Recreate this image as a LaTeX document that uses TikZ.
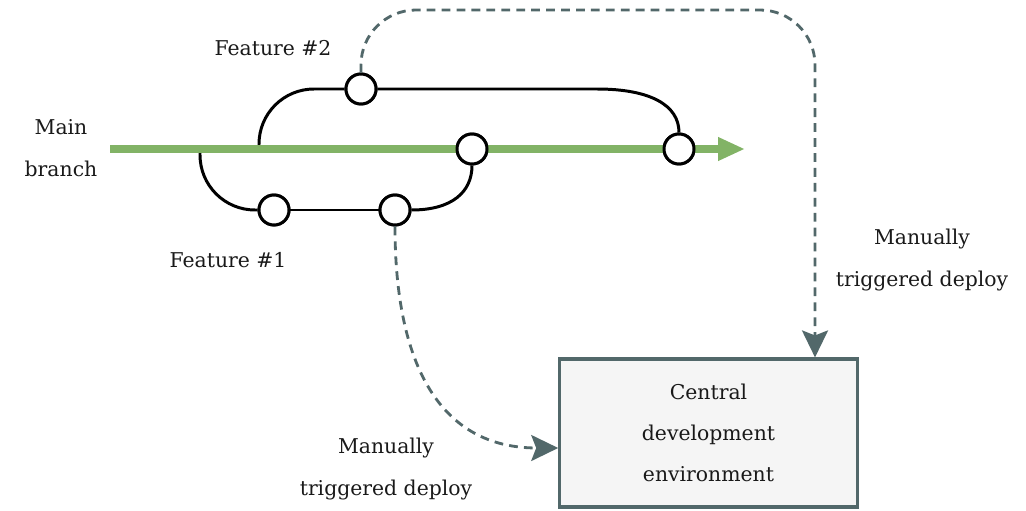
\documentclass[tikz,border=0pt]{standalone}
\usepackage{fontspec}
\setmainfont{DejaVu Serif}
\usepackage{tikz}
\usetikzlibrary{arrows.meta}
\definecolor{mainGreen}{HTML}{82B366}
\definecolor{deployGray}{HTML}{52686A}
\definecolor{boxFill}{HTML}{F5F5F5}

\begin{document}
\begin{tikzpicture}[x=0.02cm,y=-0.02cm,
    label/.style={align=center,text=black!90,font=\fontsize{11.6}{23.5}\selectfont},
    commit/.style={circle,draw=black,fill=white,line width=1.7pt,minimum size=0.6cm,inner sep=0pt},
    branch/.style={draw=black,line width=1.7pt},
    deploy/.style={draw=deployGray,line width=1.6pt,dash pattern=on 5pt off 3.5pt,
      -{Stealth[length=0.54cm,width=0.52cm,inset=0.1cm]}}]
  \useasboundingbox (0,0) rectangle (1026,510);
  \coordinate (mainstart) at (110,149);
  \coordinate (mainend) at (745,149);
  \coordinate (f1fork) at (200,149);
  \coordinate (f2fork) at (259,149);
  \node[commit] (f2a) at (361,89) {};
  \node[commit] (m1) at (472,149) {};
  \node[commit] (m2) at (679,149) {};
  \node[commit] (f1a) at (274,210) {};
  \node[commit] (f1b) at (395,210) {};
  \node[draw=deployGray,fill=boxFill,line width=1.8pt,minimum width=5.95cm,minimum height=2.96cm,
    label] (box) at (708.5,433) {Central\\development\\environment};
  \draw[branch,rounded corners=1.1cm] (f2fork) |- (f2a.west);
  \draw[branch] (f2a.east) -- (597,89) .. controls (650,89) and (679,105) .. (m2.north);
  \draw[branch,rounded corners=1.1cm] (f1fork) |- (f1a.west);
  \draw[branch] (f1a.east) -- (f1b.west);
  \draw[branch] (f1b.east) .. controls (452,210) and (472,192) .. (m1.south);
  \draw[mainGreen,line width=4.6pt,-{Triangle[length=0.54cm,width=0.44cm]}] (mainstart) -- (mainend);
  \node[commit] at (f2a) {};
  \node[commit] at (m1) {};
  \node[commit] at (m2) {};
  \node[commit] at (f1a) {};
  \node[commit] at (f1b) {};
  \coordinate (turn) at (815,10);
  \draw[deploy,rounded corners=1.1cm] (f2a.north) |- (turn) -- (turn |- box.north);
  \draw[deploy] (f1b.south) .. controls (395,365) and (440,448) .. ([yshift=-0.3cm]box.west);
  \node[label] (mainlbl) at (61,148) {Main\\branch};
  \node[label] (f2lbl) at (273,48) {Feature \#2};
  \node[label] (f1lbl) at (228,260) {Feature \#1};
  \node[label] (deployR) at (922,260) {Manually\\triggered deploy};
  \node[label] (deployL) at (386,469) {Manually\\triggered deploy};
\end{tikzpicture}
\end{document}
